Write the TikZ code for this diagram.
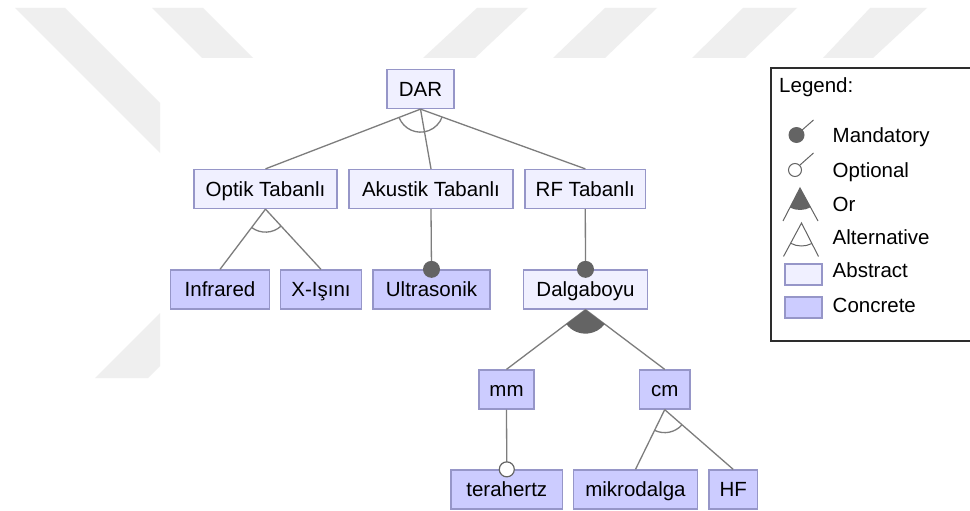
\documentclass[tikz,border=0pt]{standalone}
\usepackage{fontspec}
\setmainfont{Liberation Sans}
\usetikzlibrary{calc}

\definecolor{wm}{RGB}{239,239,239}
\definecolor{absfill}{RGB}{240,240,255}
\definecolor{confill}{RGB}{204,204,255}
\definecolor{boxline}{RGB}{150,150,200}
\definecolor{edgecol}{RGB}{125,125,125}
\definecolor{dotcol}{RGB}{100,100,100}
\definecolor{lgframe}{RGB}{45,45,45}

\tikzset{
  feat/.style={draw=boxline, line width=1.3pt, minimum height=39pt, inner sep=0pt,
    text height=14.7pt, text depth=0pt, font=\fontsize{20.5}{24}\selectfont},
  abstractf/.style={feat, fill=absfill},
  concretef/.style={feat, fill=confill},
  edge/.style={draw=edgecol, line width=1.3pt},
  mandot/.style={fill=dotcol, draw=none},
  optdot/.style={fill=white, draw=dotcol, line width=1.2pt},
  altarc/.style={draw=edgecol, line width=1.3pt},
  orfill/.style={fill=dotcol, draw=none},
  lgtext/.style={anchor=west, inner sep=0pt, text height=14.7pt, text depth=0pt,
    font=\fontsize{20.5}{24}\selectfont},
  lgline/.style={draw=dotcol, line width=1pt},
}

% arc of an alternative group: #1 parent, #2 first child, #3 last child
\newcommand\altgroup[3]{%
  \path[altarc] let \p1=(#1.south), \p2=(#2.north), \p3=(#3.north),
    \n1={atan2(\y2-\y1,\x2-\x1)}, \n2={atan2(\y3-\y1,\x3-\x1)} in
    (\p1) ++(\n1:23pt) arc[start angle=\n1, end angle=\n2, radius=23pt];}
% filled sector of an or group
\newcommand\orgroup[3]{%
  \path[orfill] let \p1=(#1.south), \p2=(#2.north), \p3=(#3.north),
    \n1={atan2(\y2-\y1,\x2-\x1)}, \n2={atan2(\y3-\y1,\x3-\x1)} in
    (\p1) -- ++(\n1:24pt) arc[start angle=\n1, end angle=\n2, radius=24pt] -- cycle;}

\begin{document}
\begin{tikzpicture}[x=1pt,y=1pt]
\useasboundingbox (0,0) rectangle (970,-511);
\fill[white] (0,0) rectangle (970,-511);

% background stripes
\fill[wm] (15,-8) -- (65,-8) -- (160,-103) -- (160,-153) -- cycle;
\fill[wm] (152,-8) -- (203,-8) -- (253,-58) -- (202,-58) -- cycle;
\fill[wm] (95,-378) -- (148,-378) -- (160,-366) -- (160,-313) -- cycle;
\fill[wm] (477,-8) -- (528,-8) -- (475,-58) -- (423,-58) -- cycle;
\fill[wm] (605,-8) -- (657,-8) -- (605,-58) -- (553,-58) -- cycle;
\fill[wm] (743,-8) -- (797,-8) -- (745,-58) -- (692,-58) -- cycle;
\fill[wm] (870,-8) -- (927,-8) -- (873,-58) -- (823,-58) -- cycle;

% features
\node[abstractf, minimum width=67pt]    (dar)   at (420.5,-89)   {DAR};
\node[abstractf, minimum width=143pt]   (optik) at (265.5,-189)  {Optik Tabanlı};
\node[abstractf, minimum width=164pt]   (akus)  at (431,-189)    {Akustik Tabanlı};
\node[abstractf, minimum width=120.5pt] (rf)    at (585.3,-189)  {RF Tabanlı};
\node[concretef, minimum width=98.5pt]  (infra) at (220,-289.5)  {Infrared};
\node[concretef, minimum width=80.5pt]  (xray)  at (321,-289.5)  {X-Işını};
\node[concretef, minimum width=117pt]   (ultra) at (431.5,-289.5) {Ultrasonik};
\node[abstractf, minimum width=124.5pt] (dalga) at (585.5,-289.5) {Dalgaboyu};
\node[concretef, minimum width=55pt]    (mm)    at (506.5,-389.5) {mm};
\node[concretef, minimum width=50.5pt]  (cm)    at (664.7,-389.5) {cm};
\node[concretef, minimum width=111.5pt] (thz)   at (506.8,-489.5) {terahertz};
\node[concretef, minimum width=124.5pt] (mikro) at (635.5,-489.5) {mikrodalga};
\node[concretef, minimum width=48.5pt]  (hf)    at (733.2,-489.5) {HF};

% connectors
\draw[edge] (dar.south) -- (optik.north);
\draw[edge] (dar.south) -- (akus.north);
\draw[edge] (dar.south) -- (rf.north);
\draw[edge] (optik.south) -- (infra.north);
\draw[edge] (optik.south) -- (xray.north);
\draw[edge] (akus.south) -- (ultra.north);
\draw[edge] (rf.south) -- (dalga.north);
\draw[edge] (dalga.south) -- (mm.north);
\draw[edge] (dalga.south) -- (cm.north);
\draw[edge] (mm.south) -- (thz.north);
\draw[edge] (cm.south) -- (mikro.north);
\draw[edge] (cm.south) -- (hf.north);

% group markers
\altgroup{dar}{optik}{rf}
\altgroup{optik}{infra}{xray}
\altgroup{cm}{mikro}{hf}
\orgroup{dalga}{mm}{cm}

% mandatory / optional ends
\fill[mandot] (ultra.north) circle[radius=8.5pt];
\fill[mandot] (dalga.north) circle[radius=8.5pt];
\draw[optdot] (thz.north) circle[radius=7.5pt];

% legend
\draw[lgframe, line width=2pt] (771,-68) rectangle (976,-341);
\node[lgtext] (lgtitle) at (779,-85)   {Legend:};
\node[lgtext] (lgman)   at (832.5,-135.5) {Mandatory};
\node[lgtext] (lgopt)   at (832.5,-170)   {Optional};
\node[lgtext] (lgor)    at (832.5,-204)   {Or};
\node[lgtext] (lgalt)   at (832.5,-237.5) {Alternative};
\node[lgtext] (lgabs)   at (832.5,-270.5) {Abstract};
\node[lgtext] (lgcon)   at (832.5,-305)   {Concrete};

\fill[dotcol] (796.5,-135) circle[radius=8pt];
\draw[lgline] (801,-131) -- (813.5,-120);
\draw[optdot, line width=1pt] (795,-170) circle[radius=6.5pt];
\draw[lgline] (800,-165) -- (813.5,-153);
\fill[dotcol] (800,-188) -- ++(-117.3:22pt) arc[start angle=-117.3, end angle=-61.4, radius=22pt] -- cycle;
\draw[lgline] (783,-221) -- (800,-188) -- (818,-221);
\draw[lgline] (783.5,-256.5) -- (801.5,-223) -- (818.5,-256.5);
\draw[lgline] (801.5,-223) ++(-118.3:23pt) arc[start angle=-118.3, end angle=-63.1, radius=23pt];
\draw[draw=boxline, fill=absfill, line width=1.2pt] (785,-264) rectangle (822,-285);
\draw[draw=boxline, fill=confill, line width=1.2pt] (785,-297) rectangle (822,-318);
\end{tikzpicture}
\end{document}
